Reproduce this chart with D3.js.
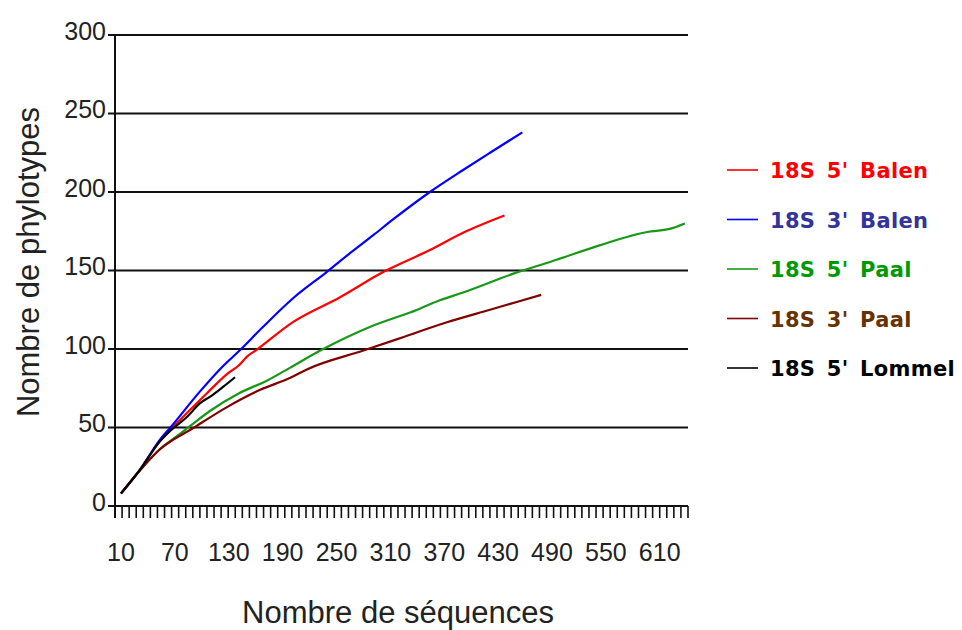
<!DOCTYPE html>
<html><head><meta charset="utf-8">
<script src="https://cdn.jsdelivr.net/npm/d3@7"></script>
<style>html,body{margin:0;padding:0;background:#fff;}svg{display:block;}</style>
</head><body>
<svg id="c" width="962" height="630"></svg>
<script>
// ---- data ----
const seriesNames = ["18S 5' Balen", "18S 3' Balen", "18S 5' Paal", "18S 3' Paal", "18S 5' Lommel"];
const lineColors  = ["#ff0000", "#0000ff", "#189818", "#800000", "#000000"];
const textColors  = ["#ff0000", "#333399", "#009900", "#663300", "#000000"];

const seqBalen5 = [10, 31, 53, 65, 76, 106, 128, 142, 150, 161, 201, 254, 302, 354, 391, 437];
const phyBalen5 = [8, 23, 41, 48.5, 55, 72, 84, 90, 95, 99.5, 117, 133, 149, 163, 174, 185];

const seqBalen3 = [10, 31, 53, 65, 98, 120, 142, 168, 201, 239, 265, 291, 313, 354, 391, 421, 457];
const phyBalen3 = [8, 23, 42, 50, 73, 87, 99, 114, 132, 149, 161, 172.5, 182.5, 200, 214, 225, 238];

const seqPaal5 = [10, 30, 53, 70, 87, 109, 142, 173, 198, 232, 287, 340, 365, 391, 447, 496, 543, 596, 621, 638];
const phyPaal5 = [8, 22, 36, 43.5, 51, 60.5, 72, 80, 88, 99, 114, 125, 131, 136, 148, 157, 166, 174.5, 176.5, 180];

const seqPaal3 = [10, 30, 53, 90, 128, 165, 198, 217, 280, 324, 373, 421, 478];
const phyPaal3 = [8, 22, 36, 49.5, 63, 74, 81.5, 87, 99, 107.5, 117, 125, 134.5];

const seqLommel5 = [10, 31, 53, 65, 84, 98, 109, 124, 137];
const phyLommel5 = [8, 23, 41, 48, 57, 65.5, 69.5, 76, 82];

const xTickLabels = [10, 70, 130, 190, 250, 310, 370, 430, 490, 550, 610];
const yTickLabels = [0, 50, 100, 150, 200, 250, 300];
const xTitle = "Nombre de séquences";
const yTitle = "Nombre de phylotypes";

// ---- drawing ----
const seqs = [seqBalen5, seqBalen3, seqPaal5, seqPaal3, seqLommel5];
const phys = [phyBalen5, phyBalen3, phyPaal5, phyPaal3, phyLommel5];

const svg = d3.select("#c");
svg.append("rect").attr("width", 962).attr("height", 630).attr("fill", "#fff");

const x = d3.scaleLinear().domain([3.3, 641.5]).range([115, 688]);
const y = d3.scaleLinear().domain([0, 300]).range([506, 35]);

// gridlines
svg.append("g").selectAll("line").data(yTickLabels.filter(d => d > 0)).join("line")
  .attr("x1", 108).attr("x2", 688)
  .attr("y1", d => y(d)).attr("y2", d => y(d))
  .attr("stroke", "#111").attr("stroke-width", 2);

// y tick labels
svg.append("g").selectAll("text").data(yTickLabels).join("text")
  .attr("x", 106).attr("y", d => y(d) - 2)
  .attr("text-anchor", "end").attr("dominant-baseline", "middle")
  .attr("font-family", "Liberation Sans, Arial, sans-serif").attr("font-size", 25)
  .attr("fill", "#222").text(d => d);

// x ticks (category marks)
const nTicks = 82;
const tickVals = d3.range(nTicks).map(i => x.invert(115 + i * (573 / (nTicks - 1))));
svg.append("g").selectAll("line").data(tickVals).join("line")
  .attr("x1", d => x(d)).attr("x2", d => x(d))
  .attr("y1", 506).attr("y2", 518)
  .attr("stroke", "#111").attr("stroke-width", 1.6);

// axes
svg.append("line").attr("x1", 108).attr("x2", 688).attr("y1", 506).attr("y2", 506)
  .attr("stroke", "#111").attr("stroke-width", 2);
svg.append("line").attr("x1", 115).attr("x2", 115).attr("y1", 35).attr("y2", 518)
  .attr("stroke", "#111").attr("stroke-width", 2);

// x tick labels
svg.append("g").selectAll("text").data(xTickLabels).join("text")
  .attr("x", d => x(d)).attr("y", 561)
  .attr("text-anchor", "middle")
  .attr("font-family", "Liberation Sans, Arial, sans-serif").attr("font-size", 25)
  .attr("fill", "#222").text(d => d);

// titles
svg.append("text").attr("x", 398).attr("y", 623).attr("text-anchor", "middle")
  .attr("font-family", "Liberation Sans, Arial, sans-serif").attr("font-size", 31)
  .attr("fill", "#222").text(xTitle);
svg.append("text").attr("transform", "translate(39,262) rotate(-90)").attr("text-anchor", "middle")
  .attr("font-family", "Liberation Sans, Arial, sans-serif").attr("font-size", 31)
  .attr("fill", "#222").text(yTitle);

// lines
const line = d3.line().x(d => x(d[0])).y(d => y(d[1])).curve(d3.curveMonotoneX);
seqs.forEach((s, i) => {
  const pts = s.map((v, j) => [v, phys[i][j]]);
  svg.append("path").datum(pts).attr("d", line)
    .attr("fill", "none").attr("stroke", lineColors[i]).attr("stroke-width", 2.2)
    .attr("stroke-linejoin", "round");
});

// legend
const lg = svg.append("g");
seriesNames.forEach((n, i) => {
  const cy = 170 + i * 49.5;
  lg.append("line").attr("x1", 727).attr("x2", 758).attr("y1", cy).attr("y2", cy)
    .attr("stroke", lineColors[i]).attr("stroke-width", 1.6);
  lg.append("text").attr("x", 770).attr("y", cy + 8)
    .attr("font-family", "DejaVu Sans, sans-serif").attr("font-weight", "bold")
    .attr("font-size", 21).attr("word-spacing", 4).attr("letter-spacing", 0.3)
    .attr("fill", textColors[i]).text(n);
});
</script>
</body></html>
